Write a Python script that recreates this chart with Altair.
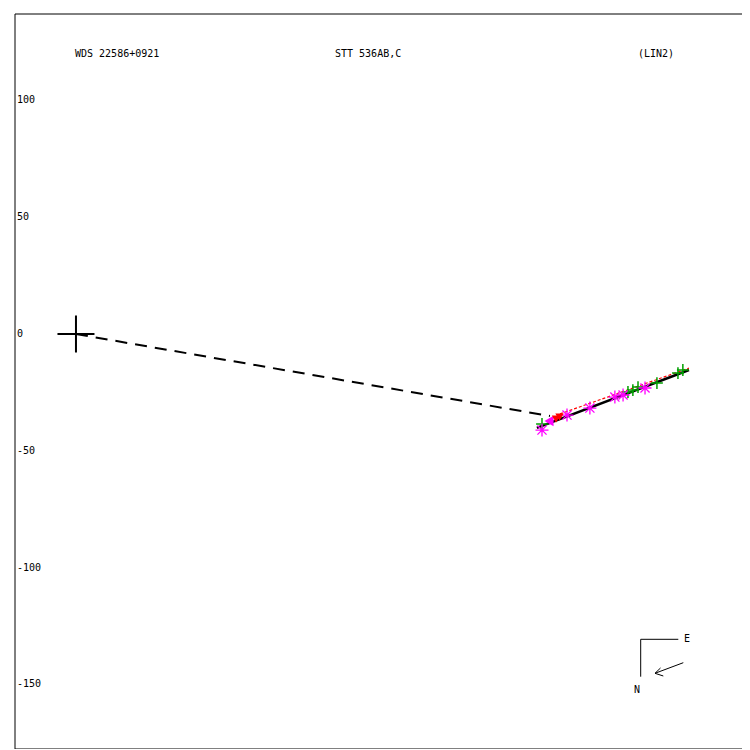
import altair as alt
import pandas as pd

# ---- data (display units, x to the right, y up) ----
ast_x = [199.5, 210.2, 220.0, 230.7, 234.2, 243.6]
ast_y = [-41.1, -34.7, -31.7, -27.0, -26.1, -23.1]

plus_x = [199.5, 236.3, 238.4, 240.6, 248.7, 257.7, 259.8]
plus_y = [-38.5, -24.8, -24.0, -22.7, -21.0, -16.7, -15.4]

red_x = [205.5, 207.0]
red_y = [-36.4, -35.6]

mag_tri_x = [202.5]
mag_tri_y = [-37.2]

fit_x = [197.3, 262.4]
fit_y = [-40.2, -15.4]

red_line_x = [207.2, 262.4]
red_line_y = [-34.2, -14.6]

dash_x = [0.0, 202.9]
dash_y = [0.0, -35.1]

ytick_vals = [100, 50, 0, -50, -100, -150]

titles = ["WDS 22586+0921", "STT 536AB,C", "(LIN2)"]
title_px = [60, 320, 623]

# compass decoration (pixel positions in plot area)
comp_segs = [
    (625.7, 625.3, 663.3, 625.3),
    (625.7, 625.3, 625.7, 662.7),
    (668.3, 648.7, 640.0, 659.3),
    (640.0, 659.3, 645.5, 654.0),
    (640.0, 659.3, 648.3, 662.0),
]
comp_labels = [("E", 672, 625), ("N", 622, 676)]

W, H = 727, 735
PPU = 2.336
XDOM = [-26.1, -26.1 + W / PPU]
YDOM = [137.0 - H / PPU, 137.0]
FONT = "DejaVu Sans Mono"

xs = alt.Scale(domain=XDOM, nice=False, zero=False)
ys = alt.Scale(domain=YDOM, nice=False, zero=False)


def X(f="x"):
    return alt.X(f"{f}:Q", scale=xs, axis=None)


def Y(f="y"):
    return alt.Y(f"{f}:Q", scale=ys, axis=None)


ast_df = pd.DataFrame({"x": ast_x, "y": ast_y})
plus_df = pd.DataFrame({"x": plus_x, "y": plus_y})
red_df = pd.DataFrame({"x": red_x, "y": red_y})
tri_df = pd.DataFrame({"x": mag_tri_x, "y": mag_tri_y})
fit_df = pd.DataFrame({"x": fit_x, "y": fit_y})
redl_df = pd.DataFrame({"x": red_line_x, "y": red_line_y})
dash_df = pd.DataFrame({"x": dash_x, "y": dash_y})
origin_df = pd.DataFrame({"x": [0.0], "y": [0.0]})
tick_df = pd.DataFrame({"y": ytick_vals, "label": [str(v) for v in ytick_vals]})

layers = []

# frame (top, bottom, left)
layers.append(alt.Chart(origin_df).mark_rule(color="black", strokeWidth=1).encode(
    x=alt.value(0), x2=alt.value(W), y=alt.value(0)))
layers.append(alt.Chart(origin_df).mark_rule(color="black", strokeWidth=1).encode(
    x=alt.value(0), x2=alt.value(W), y=alt.value(H)))
layers.append(alt.Chart(origin_df).mark_rule(color="black", strokeWidth=1).encode(
    x=alt.value(0), y=alt.value(0), y2=alt.value(H)))

# dashed line from primary
layers.append(alt.Chart(dash_df).mark_line(color="black", strokeWidth=2, strokeDash=[12, 8]).encode(
    x=X(), y=Y()))

# red line
layers.append(alt.Chart(redl_df).mark_line(color="red", strokeWidth=1.2, strokeDash=[3, 2]).encode(
    x=X(), y=Y()))
# black fit line
layers.append(alt.Chart(fit_df).mark_line(color="black", strokeWidth=2.5).encode(
    x=X(), y=Y()))

# green plus
layers.append(alt.Chart(plus_df).mark_point(
    shape="M-1,0L1,0M0,-1L0,1", size=140, color="#00a000", strokeWidth=1.5,
    filled=False, opacity=1).encode(x=X(), y=Y()))
# magenta asterisks
layers.append(alt.Chart(ast_df).mark_point(
    shape="M-1,0L1,0M0,-1L0,1M-0.7,-0.7L0.7,0.7M-0.7,0.7L0.7,-0.7",
    size=169, color="#ff00ff", strokeWidth=1.3, filled=False, opacity=1).encode(
    x=X(), y=Y()))
# magenta filled triangle
layers.append(alt.Chart(tri_df).mark_point(
    shape="triangle-left", size=110, color="#ff00ff", filled=True, opacity=1).encode(
    x=X(), y=Y()))
# red filled shapes
layers.append(alt.Chart(red_df).mark_point(
    shape="triangle-down", size=70, color="red", filled=True, opacity=1).encode(
    x=X(), y=Y()))

# primary cross
layers.append(alt.Chart(origin_df).mark_point(
    shape="M-1,0L1,0M0,-1L0,1", size=1369, color="black", strokeWidth=2,
    filled=False, opacity=1).encode(x=X(), y=Y()))

# y labels
layers.append(alt.Chart(tick_df).mark_text(
    align="left", baseline="middle", font=FONT, fontSize=10, color="black").encode(
    x=alt.value(2), y=Y(), text="label:N"))

# titles
for t, px in zip(titles, title_px):
    layers.append(alt.Chart(origin_df).mark_text(
        align="left", baseline="middle", font=FONT, fontSize=10, color="black", text=t).encode(
        x=alt.value(px), y=alt.value(40)))

# compass
for (x1, y1, x2, y2) in comp_segs:
    layers.append(alt.Chart(origin_df).mark_rule(color="black", strokeWidth=1).encode(
        x=alt.value(x1), y=alt.value(y1), x2=alt.value(x2), y2=alt.value(y2)))
for (t, px, py) in comp_labels:
    layers.append(alt.Chart(origin_df).mark_text(
        align="center", baseline="middle", font=FONT, fontSize=10, color="black", text=t).encode(
        x=alt.value(px), y=alt.value(py)))

chart = alt.layer(*layers).properties(
    width=W, height=H,
    autosize=alt.AutoSizeParams(type="none"),
    padding={"left": 7, "top": 6, "right": 0, "bottom": 0},
    background="white",
).configure_view(strokeWidth=0, stroke="transparent", strokeOpacity=0)

chart.save("out.html", embed_options={"renderer": "svg", "actions": False})
